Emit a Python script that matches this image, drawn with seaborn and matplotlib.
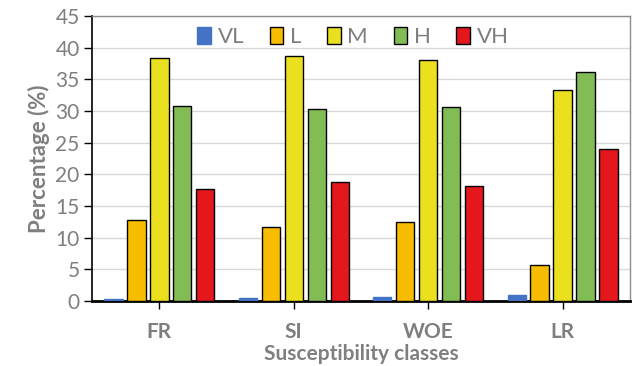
import matplotlib
matplotlib.use("Agg")
import matplotlib.pyplot as plt
import seaborn as sns
import pandas as pd

methods = ["FR", "SI", "WOE", "LR"]
classes = ["VL", "L", "M", "H", "VH"]
vl = [0.3, 0.5, 0.6, 0.9]
low = [12.8, 11.6, 12.4, 5.6]
mod = [38.4, 38.7, 38.1, 33.4]
high = [30.8, 30.3, 30.6, 36.1]
vhigh = [17.6, 18.8, 18.2, 24.0]
colors = ["#4472C4", "#F8BD00", "#EAE020", "#82BC55", "#E3171C"]

series = [vl, low, mod, high, vhigh]
rows = []
for cls, vals in zip(classes, series):
    for m, v in zip(methods, vals):
        rows.append({"method": m, "cls": cls, "pct": v})
df = pd.DataFrame(rows)

sns.set_theme(style="white")
plt.rcParams["font.family"] = ["Lato", "DejaVu Sans"]
gray = "#7F7F7F"

fig = plt.figure(figsize=(6.35, 3.66), dpi=100)
ax = fig.add_axes([0.145, 0.178, 0.847, 0.778])

sns.barplot(data=df, x="method", y="pct", hue="cls", order=methods,
            hue_order=classes, palette=colors, saturation=1, width=0.855,
            gap=0.2, edgecolor="black", linewidth=1.0, ax=ax, zorder=3)

# very-low bars have no dark outline
for bar in ax.containers[0]:
    bar.set_edgecolor(colors[0])

ax.set_ylim(0, 45)
ax.set_xlim(-0.5, 3.5)
ax.set_yticks(range(0, 46, 5))
ax.yaxis.grid(True, color="#D9D9D9", linewidth=1.0, zorder=0)
ax.set_axisbelow(True)

for s in ["left", "bottom"]:
    ax.spines[s].set_color("black")
ax.spines["left"].set_linewidth(1.2)
ax.spines["bottom"].set_linewidth(2.0)
for s in ["top", "right"]:
    ax.spines[s].set_color("#8C8C8C")
    ax.spines[s].set_linewidth(1.0)

ax.tick_params(axis="y", direction="out", length=6, width=1, color="black",
               labelsize=15, labelcolor=gray, left=True, pad=3)
ax.tick_params(axis="x", direction="out", length=6, width=1, color="black",
               labelsize=15, labelcolor=gray, bottom=True, pad=9)
for lbl in ax.get_xticklabels():
    lbl.set_fontweight("bold")

ax.set_xlabel("Susceptibility classes", fontsize=15, fontweight="bold",
              color=gray, labelpad=2)
ax.set_ylabel("Percentage (%)", fontsize=16, fontweight="bold",
              color=gray, labelpad=4)

handles, labels = ax.get_legend_handles_labels()
for h, c in zip(handles, colors):
    h.set_edgecolor("black" if c != colors[0] else c)
ax.legend(handles, labels, ncol=5, loc="upper center",
          bbox_to_anchor=(0.485, 1.0), frameon=False, fontsize=16,
          labelcolor=gray, handlelength=0.62, handleheight=0.8,
          handletextpad=0.3, columnspacing=1.15, borderaxespad=0.1)

fig.savefig("out.png", dpi=100)
